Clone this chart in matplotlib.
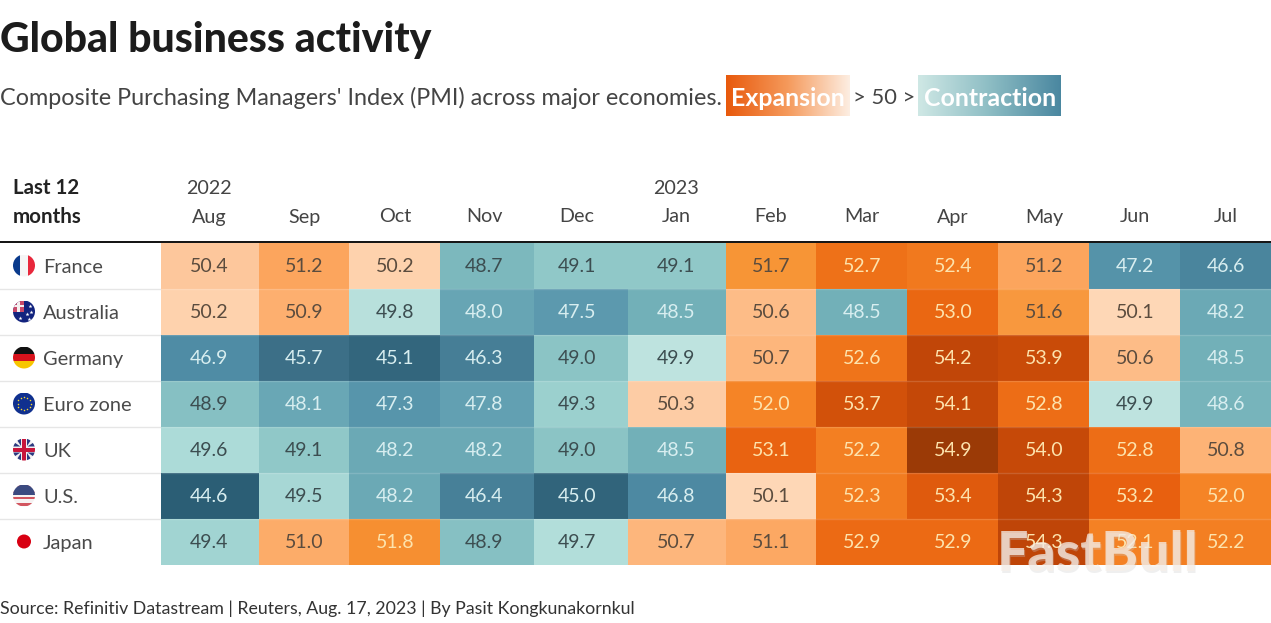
import matplotlib

matplotlib.use("Agg")

import matplotlib.pyplot as plt
import numpy as np
from matplotlib.colors import LinearSegmentedColormap
from matplotlib.patches import Circle, Polygon, Rectangle

WIDTH, HEIGHT = 1271, 623
FONT = "Lato"

months = ["Aug", "Sep", "Oct", "Nov", "Dec", "Jan", "Feb", "Mar", "Apr", "May", "Jun", "Jul"]
years = {"Aug": "2022", "Jan": "2023"}
countries = ["France", "Australia", "Germany", "Euro zone", "UK", "U.S.", "Japan"]

france = [50.4, 51.2, 50.2, 48.7, 49.1, 49.1, 51.7, 52.7, 52.4, 51.2, 47.2, 46.6]
australia = [50.2, 50.9, 49.8, 48.0, 47.5, 48.5, 50.6, 48.5, 53.0, 51.6, 50.1, 48.2]
germany = [46.9, 45.7, 45.1, 46.3, 49.0, 49.9, 50.7, 52.6, 54.2, 53.9, 50.6, 48.5]
euro_zone = [48.9, 48.1, 47.3, 47.8, 49.3, 50.3, 52.0, 53.7, 54.1, 52.8, 49.9, 48.6]
uk = [49.6, 49.1, 48.2, 48.2, 49.0, 48.5, 53.1, 52.2, 54.9, 54.0, 52.8, 50.8]
us = [44.6, 49.5, 48.2, 46.4, 45.0, 46.8, 50.1, 52.3, 53.4, 54.3, 53.2, 52.0]
japan = [49.4, 51.0, 51.8, 48.9, 49.7, 50.7, 51.1, 52.9, 52.9, 54.3, 52.1, 52.2]

# column edges are not even in the original, and labels are not quite centred
col_edges = [161, 259, 349, 440, 534, 628, 726, 816, 907, 998, 1089, 1180, 1271]
label_x = [209, 304, 395, 484, 577, 676, 771, 862, 953, 1044, 1135, 1226]

color_stops = [
    (44.6, "#2b5e75"), (45.7, "#3c6f87"), (46.9, "#4f8ca5"), (47.8, "#62a0b2"),
    (48.5, "#72b0b8"), (49.1, "#90c8c8"), (49.6, "#acdbd8"), (50.0, "#c4e6e1"),
    (50.01, "#fedcbd"), (50.4, "#fdc79c"), (50.7, "#fdb67c"), (51.2, "#fca55d"),
    (51.7, "#f79536"), (52.0, "#f58426"), (52.7, "#ee7118"), (53.2, "#e8600f"),
    (53.9, "#c94b08"), (54.3, "#bf4508"), (54.9, "#9b3a06"),
]


def make_cmap():
    lo, hi = color_stops[0][0], color_stops[-1][0]
    stops = [((v - lo) / (hi - lo), c) for v, c in color_stops]
    return LinearSegmentedColormap.from_list("pmi", stops, N=1024), lo, hi


def text_color(value):
    if value < 48.65:
        return "#d8eef0"
    if value < 50:
        return "#3c4d50"
    if value < 51.75:
        return "#5b4c3e"
    return "#fde3ad"


def draw_flag(ax, name, cx, cy, r=11):
    disc = Circle((cx, cy), r, transform=ax.transData)

    def add(patch):
        ax.add_patch(patch)
        patch.set_clip_path(disc)
        return patch

    def rect(x0, y0, w, h, color):
        add(Rectangle((cx + x0, cy + y0), w, h, fc=color, ec="none"))

    if name == "France":
        rect(-11, -11, 7.3, 22, "#0a3a8c")
        rect(-3.7, -11, 7.3, 22, "#f5f5f5")
        rect(3.6, -11, 7.4, 22, "#e8283c")
    elif name == "Germany":
        rect(-11, -11, 22, 7.3, "#111111")
        rect(-11, -3.7, 22, 7.3, "#d8131c")
        rect(-11, 3.6, 22, 7.4, "#f7c600")
    elif name == "Australia":
        rect(-11, -11, 22, 22, "#12237e")
        rect(-11, -11, 11, 11, "#c84a6a")
        rect(-11, -6.8, 11, 2.4, "#f4f0f0")
        rect(-6.7, -11, 2.4, 11, "#f4f0f0")
        ax.plot([cx - 4, cx + 6, cx + 7, cx + 3, cx + 5], [cy + 6, cy - 6, cy, cy + 2, cy + 7],
                ls="none", marker="*", ms=3, color="white", mew=0)
    elif name == "Euro zone":
        rect(-11, -11, 22, 22, "#10308f")
        angles = np.arange(12) * np.pi / 6
        ax.plot(cx + 6.5 * np.cos(angles), cy + 6.5 * np.sin(angles), ls="none",
                marker="o", ms=1.1, color="#f7d830", mew=0)
    elif name == "UK":
        rect(-11, -11, 22, 22, "#f3f0f2")
        for sx in (-1, 1):
            for sy in (-1, 1):
                tri = [(cx + sx * 11, cy + sy * 3), (cx + sx * 3.5, cy + sy * 3), (cx + sx * 11, cy + sy * 8)]
                add(Polygon(tri, fc="#2b3a80", ec="none"))
                tri = [(cx + sx * 3, cy + sy * 11), (cx + sx * 3, cy + sy * 3.5), (cx + sx * 8, cy + sy * 11)]
                add(Polygon(tri, fc="#2b3a80", ec="none"))
        rect(-11, -2, 22, 4, "#c8163c")
        rect(-2, -11, 4, 22, "#c8163c")
    elif name == "U.S.":
        rect(-11, -11, 22, 22, "#f6f2f2")
        for i in range(0, 7, 2):
            rect(-11, -11 + i * 22 / 7, 22, 22 / 14 + 0.8, "#d2555f")
        rect(-11, -11, 22, 10, "#3b4a80")
    elif name == "Japan":
        ax.add_patch(Circle((cx, cy), 7, fc="#d80012", ec="none"))


def gradient_box(ax, x0, x1, y0, y1, colors):
    cmap = LinearSegmentedColormap.from_list("box", colors)
    ax.imshow(np.linspace(0, 1, 256).reshape(1, -1), extent=(x0, x1, y1, y0),
              cmap=cmap, aspect="auto", zorder=1)


def main():
    plt.rcParams["font.family"] = [FONT, "DejaVu Sans"]
    data = np.array([france, australia, germany, euro_zone, uk, us, japan])
    cmap, lo, hi = make_cmap()

    fig = plt.figure(figsize=(WIDTH / 100, HEIGHT / 100), dpi=100, facecolor="white")

    # overlay in pixel coordinates for text, flags and rules
    page = fig.add_axes([0, 0, 1, 1])
    page.set_xlim(0, WIDTH)
    page.set_ylim(HEIGHT, 0)
    page.axis("off")

    top, row_h = 243, 46
    left, right = col_edges[0], col_edges[-1]
    bottom = top + row_h * len(countries)

    # heatmap
    ax = fig.add_axes([left / WIDTH, 1 - bottom / HEIGHT, (right - left) / WIDTH, (bottom - top) / HEIGHT])
    ax.pcolormesh(col_edges, np.arange(len(countries) + 1), data, cmap=cmap, vmin=lo, vmax=hi,
                  edgecolors="none")
    ax.set_xlim(left, right)
    ax.set_ylim(len(countries), 0)
    ax.axis("off")
    ax.hlines(np.arange(1, len(countries)), left, right, color="white", alpha=0.15, lw=1)
    for i, row in enumerate(data):
        for j, value in enumerate(row):
            ax.text(label_x[j], i + 0.52, f"{value:.1f}", ha="center",
                    va="center", fontsize=14, color=text_color(value))

    page.text(0, 40, "Global business activity", fontsize=29.4, fontweight="black", color="#1c1c1c",
              va="center", ha="left")
    page.text(0, 98, "Composite Purchasing Managers' Index (PMI) across major economies.", fontsize=16.8,
              color="#444444", va="center", ha="left")

    gradient_box(page, 726, 850, 75, 116, ["#e8590c", "#f59a5c", "#fdeee2"])
    gradient_box(page, 918, 1061, 75, 116, ["#cfe8e5", "#8dbdc4", "#4a87a0"])
    page.set_xlim(0, WIDTH)
    page.set_ylim(HEIGHT, 0)
    page.text(788, 98, "Expansion", fontsize=17.9, fontweight="bold", color="white", ha="center", va="center")
    page.text(884, 98, "> 50 >", fontsize=15.8, color="#444444", ha="center", va="center")
    page.text(990, 98, "Contraction", fontsize=17.9, fontweight="bold", color="white", ha="center", va="center")

    page.text(13, 188, "Last 12", fontsize=14.8, fontweight="bold", color="#222222", va="center")
    page.text(13, 217, "months", fontsize=14.8, fontweight="bold", color="#222222", va="center")
    for j, month in enumerate(months):
        page.text(label_x[j], 217, month, fontsize=14.2, color="#444444", ha="center", va="center")
        if month in years:
            page.text(label_x[j], 188, years[month], fontsize=14.2, color="#444444", ha="center", va="center")

    page.plot([0, WIDTH], [242, 242], color="#111111", lw=1.4)
    for i, name in enumerate(countries):
        cy = top + row_h * (i + 0.5) - 0.5
        if i:
            page.plot([0, left], [top + row_h * i] * 2, color="#e6e6e6", lw=1)
        draw_flag(page, name, 24, cy)
        page.text(43, cy + 2, name, fontsize=14.4, color="#4a4a4a", va="center")

    page.text(0, 609, "Source: Refinitiv Datastream | Reuters, Aug. 17, 2023 | By Pasit Kongkunakornkul",
              fontsize=12.75, color="#333333", va="center")

    # watermark sits on top of the cells
    mark = fig.add_axes([0, 0, 1, 1], facecolor="none")
    mark.set_xlim(0, WIDTH)
    mark.set_ylim(HEIGHT, 0)
    mark.axis("off")
    mark.text(1099, 557, "FastBull", fontsize=40, fontweight="black", color="#cccccc", alpha=0.3,
              ha="center", va="center")
    mark.text(1098, 555, "FastBull", fontsize=40, fontweight="black", color="#f6f0ea", alpha=0.75,
              ha="center", va="center")

    fig.savefig("out.png", dpi=100, facecolor="white")
    plt.close(fig)


if __name__ == "__main__":
    main()
